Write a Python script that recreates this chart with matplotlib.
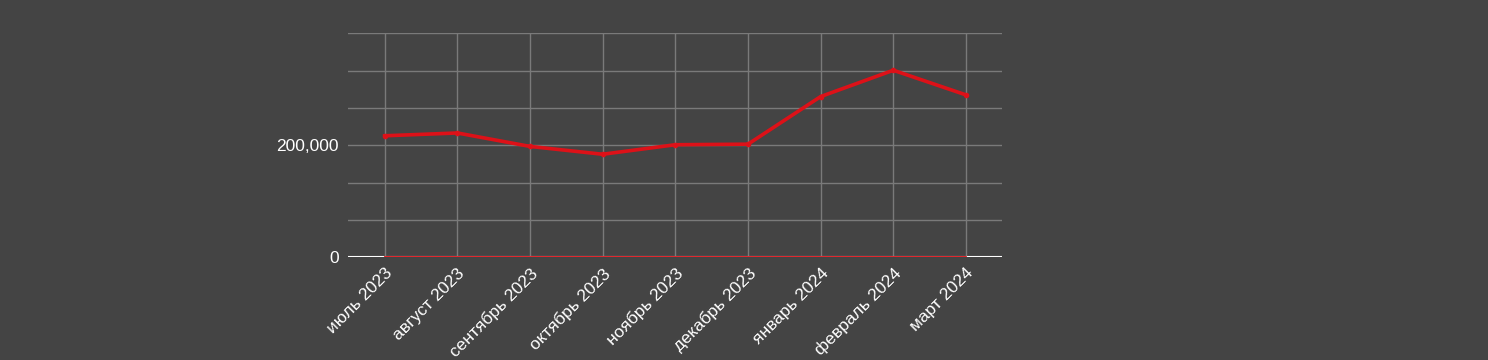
import numpy as np
import matplotlib
matplotlib.use("Agg")
import matplotlib.pyplot as plt
from matplotlib.ticker import FixedLocator, FuncFormatter

months = ["июль 2023", "август 2023", "сентябрь 2023", "октябрь 2023", "ноябрь 2023",
          "декабрь 2023", "январь 2024", "февраль 2024", "март 2024"]
values = [217000, 222000, 198000, 184000, 201000, 202000, 287000, 334000, 290000]
zeros = [0, 0, 0, 0, 0, 0, 0, 0, 0]
grid_ticks = [0, 66667, 133333, 200000, 266667, 333333, 400000]
label_ticks = [0, 200000]

bg = "#444444"
red = "#dd1118"

plt.rcParams["font.family"] = ["Liberation Sans", "DejaVu Sans"]

fig = plt.figure(figsize=(14.88, 3.6), dpi=100, facecolor=bg)
ax = fig.add_axes([0.2341, 0.2853, 0.4395, 0.6222])
ax.set_facecolor(bg)

x = np.arange(len(months))
ax.set_xlim(-0.5, len(months) - 0.5)
ax.set_ylim(0, 400000)

# grid
for v in grid_ticks[1:]:
    ax.axhline(v, color="#7a7a7a", lw=1.0, zorder=1)
for xi in x:
    ax.axvline(xi, color="#7a7a7a", lw=1.0, zorder=1)
ax.axhline(0, color="white", lw=1.5, zorder=2)

ax.plot(x, zeros, color=red, lw=1.3, zorder=3)
ax.plot(x, values, color=red, lw=2.6, marker="o", markersize=3, zorder=4)

for s in ax.spines.values():
    s.set_visible(False)

ax.yaxis.set_major_locator(FixedLocator(label_ticks))
ax.yaxis.set_major_formatter(FuncFormatter(lambda v, p: f"{int(v):,}"))
ax.tick_params(axis="y", length=0, pad=7, labelcolor="white", labelsize=12.5)
ax.set_xticks(x)
ax.set_xticklabels(months, rotation=45, ha="right", rotation_mode="anchor")
ax.tick_params(axis="x", length=0, pad=6, labelcolor="white", labelsize=12.5)

fig.savefig("out.png", dpi=100, facecolor=bg)
